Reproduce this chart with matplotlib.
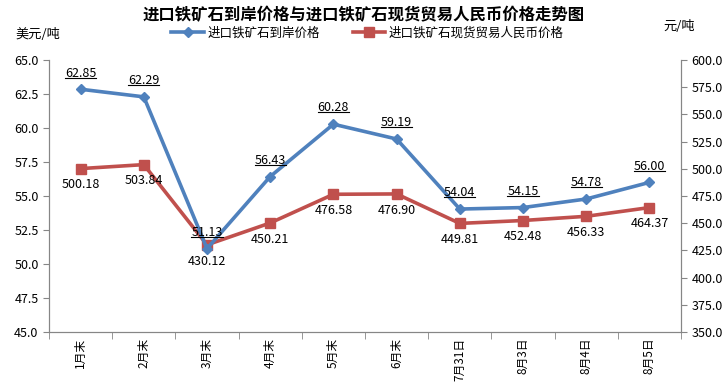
import matplotlib
matplotlib.use("Agg")
import matplotlib.pyplot as plt
from matplotlib.lines import Line2D
from matplotlib.ticker import FixedLocator, MultipleLocator, FormatStrFormatter

plt.rcParams['font.family'] = ['Noto Sans CJK SC', 'DejaVu Sans']

categories = ["1月末", "2月末", "3月末", "4月末", "5月末", "6月末", "7月31日", "8月3日", "8月4日", "8月5日"]
usd_price = [62.85, 62.29, 51.13, 56.43, 60.28, 59.19, 54.04, 54.15, 54.78, 56.00]
rmb_price = [500.18, 503.84, 430.12, 450.21, 476.58, 476.90, 449.81, 452.48, 456.33, 464.37]
series_names = ["进口铁矿石到岸价格", "进口铁矿石现货贸易人民币价格"]
title = "进口铁矿石到岸价格与进口铁矿石现货贸易人民币价格走势图"

blue = "#4F81BD"
red = "#C0504D"
axis_c = "#868686"

fig = plt.figure(figsize=(7.28, 3.87), dpi=100)
ax = fig.add_axes([49/728, 1-332/387, (681-49)/728, (332-60)/387])
ax2 = ax.twinx()

x = list(range(len(categories)))
l1, = ax.plot(x, usd_price, color=blue, lw=2.6, marker='D', ms=5.5, label=series_names[0], zorder=3)
l2, = ax2.plot(x, rmb_price, color=red, lw=2.6, marker='s', ms=7, label=series_names[1], zorder=2)

ax.set_xlim(-0.5, len(categories) - 0.5)
ax.set_ylim(45, 65)
ax2.set_ylim(350, 600)
ax.yaxis.set_major_locator(MultipleLocator(2.5))
ax.yaxis.set_major_formatter(FormatStrFormatter('%.1f'))
ax2.yaxis.set_major_locator(MultipleLocator(25))
ax2.yaxis.set_major_formatter(FormatStrFormatter('%.1f'))

ax.set_xticks(x)
ax.set_xticklabels(categories, rotation=90, fontsize=8.5)
ax.xaxis.set_minor_locator(FixedLocator([i - 0.5 for i in range(len(categories) + 1)]))
ax.tick_params(axis='x', which='major', length=0, pad=4)
ax.tick_params(axis='x', which='minor', length=5, color=axis_c, direction='out')
ax.tick_params(axis='y', length=4, color=axis_c, labelsize=9)
ax2.tick_params(axis='y', length=4, color=axis_c, labelsize=9)

for a in (ax, ax2):
    a.spines['top'].set_visible(False)
    for s in ['left', 'right', 'bottom']:
        a.spines[s].set_color(axis_c)

ax2.set_zorder(0)
ax.set_zorder(1)
ax.patch.set_visible(False)

blue_labels = []
for i, v in enumerate(usd_price):
    t = ax.annotate('%.2f' % v, (i, v), xytext=(0, 7), textcoords='offset points',
                    ha='center', va='bottom', fontsize=9)
    blue_labels.append(t)
for i, v in enumerate(rmb_price):
    ax2.annotate('%.2f' % v, (i, v), xytext=(0, -7), textcoords='offset points',
                 ha='center', va='top', fontsize=9)

fig.text(0.5, 0.962, title, ha='center', va='center', fontsize=11.8, fontweight='bold')
fig.text(15/728, 1-34/387, "美元/吨", ha='left', va='center', fontsize=9.5)
fig.text(663/728, 1-26/387, "元/吨", ha='left', va='center', fontsize=9.5)
fig.legend(handles=[l1, l2], loc='center', bbox_to_anchor=(0.505, 1-33/387), ncol=2, frameon=False,
           fontsize=9, handlelength=2.6, columnspacing=2.6, borderaxespad=0, handletextpad=0.3)

# underline the USD labels
fig.canvas.draw()
renderer = fig.canvas.get_renderer()
W, H = fig.bbox.width, fig.bbox.height
for t in blue_labels:
    bb = t.get_window_extent(renderer)
    yy = bb.y0 + 2
    fig.add_artist(Line2D([bb.x0 / W, bb.x1 / W], [yy / H, yy / H], color='black', lw=0.8,
                          transform=fig.transFigure))

fig.savefig("out.png", dpi=100)
